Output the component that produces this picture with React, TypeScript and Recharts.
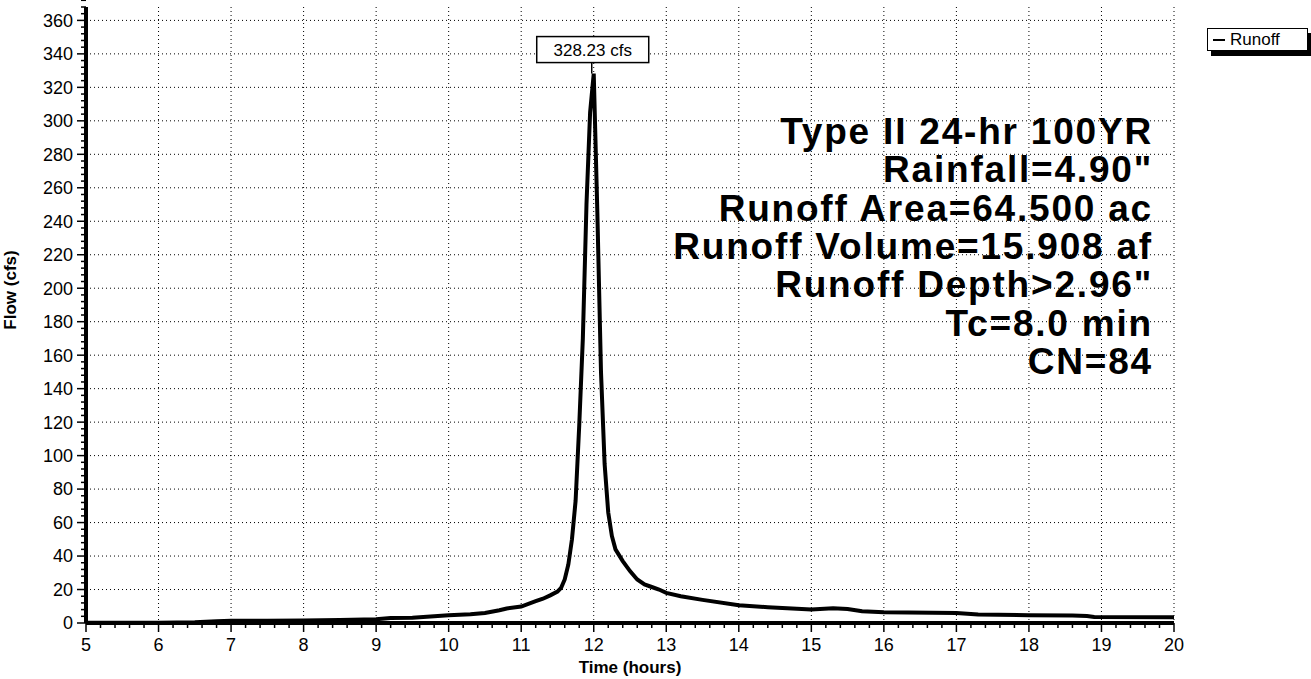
import { CartesianGrid, ComposedChart, Legend, Line, ReferenceDot, XAxis, YAxis } from 'recharts';

// hydrograph (hours, cfs)
const hours = [
  5, 6, 6.5, 6.8, 7, 7.5, 8, 8.5, 9, 9.2, 9.5, 10, 10.3, 10.5, 10.7, 10.8, 11, 11.2, 11.3, 11.4,
  11.5, 11.55, 11.6, 11.65, 11.7, 11.75, 11.8, 11.85, 11.9, 11.95, 12, 12.05, 12.1, 12.15, 12.2,
  12.25, 12.3, 12.4, 12.5, 12.6, 12.7, 12.8, 12.9, 13, 13.2, 13.5, 14, 14.4, 15, 15.3, 15.5, 15.7,
  16, 17, 17.3, 18, 18.6, 18.8, 18.9, 20,
];
const runoffCfs = [
  0.1, 0.2, 0.4, 1.0, 1.3, 1.4, 1.5, 1.8, 2.2, 3.0, 3.2, 4.6, 5.2, 6.0, 7.6, 8.7, 9.8, 13, 14.5, 16.5,
  18.8, 21, 26, 35, 50, 73, 118, 170, 250, 305, 328.23, 245, 150, 95, 66,
  52, 44, 37, 31, 26, 23, 21.5, 20, 18, 16, 13.8, 10.6, 9.4, 8.0, 8.8, 8.4, 7.0,
  6.4, 5.9, 5.1, 4.7, 4.5, 4.2, 3.6, 3.4,
];

const xTicks = [5, 6, 7, 8, 9, 10, 11, 12, 13, 14, 15, 16, 17, 18, 19, 20];
const yTicks = [0, 20, 40, 60, 80, 100, 120, 140, 160, 180, 200, 220, 240, 260, 280, 300, 320, 340, 360];
// minor ticks: 5 per hour, 5 per 20 cfs
const xAll = xTicks.flatMap((h) => (h < 20 ? [h, h + 0.2, h + 0.4, h + 0.6, h + 0.8] : [h]));
const yAll = yTicks.flatMap((v) => [v, v + 4, v + 8, v + 12, v + 16]);

const peakHour = 12;
const peakCfs = 328.23;

const notes = [
  'Type II 24-hr 100YR',
  'Rainfall=4.90"',
  'Runoff Area=64.500 ac',
  'Runoff Volume=15.908 af',
  'Runoff Depth>2.96"',
  'Tc=8.0 min',
  'CN=84',
];

const data = hours.map((t, i) => ({ t, runoff: runoffCfs[i] }));

const FONT = '"Liberation Sans", Arial, sans-serif';

function XTick({ x, y, payload }: any) {
  const major = xTicks.includes(payload.value);
  return (
    <g>
      <line x1={x} x2={x} y1={y} y2={y + (major ? 9 : 5)} stroke="#000" strokeWidth={1.5} />
      {major && (
        <text x={x} y={y + 15} dy="0.71em" textAnchor="middle" fontSize={18} fontFamily={FONT} fill="#000">
          {payload.value}
        </text>
      )}
    </g>
  );
}

function YTick({ x, y, payload }: any) {
  const major = yTicks.includes(payload.value);
  return (
    <g>
      <line x1={x} x2={x - (major ? 9 : 5)} y1={y} y2={y} stroke="#000" strokeWidth={1.5} />
      {major && (
        <text x={x - 13} y={y} dy="0.355em" textAnchor="end" fontSize={18} fontFamily={FONT} fill="#000">
          {payload.value}
        </text>
      )}
    </g>
  );
}

function PeakTag(props: any) {
  const { cx, cy } = props;
  if (cx == null || cy == null) return <g />;
  return (
    <g>
      <line x1={cx - 2} y1={cy} x2={cx - 2} y2={cy - 11} stroke="#000" strokeWidth={1.5} />
      <rect x={cx - 57} y={cy - 37} width={112} height={26} fill="#fff" stroke="#000" strokeWidth={1.5} />
      <text x={cx - 1} y={cy - 18} textAnchor="middle" fontSize={17} fontFamily={FONT} fill="#000">
        {peakCfs.toFixed(2)} cfs
      </text>
    </g>
  );
}

function LegendBox() {
  return (
    <div
      style={{
        border: '1.5px solid #000',
        background: '#fff',
        boxShadow: '4px 5px 0 #000',
        fontFamily: FONT,
        fontSize: 17,
        lineHeight: '21px',
        padding: '0 4px 0 5px',
        display: 'flex',
        alignItems: 'center',
        width: 90,
      }}
    >
      <span style={{ display: 'inline-block', width: 12, height: 2, background: '#000', marginRight: 5 }} />
      Runoff
    </div>
  );
}

export default function App() {
  return (
    <div style={{ position: 'absolute', left: 0, top: 0, width: 1311, height: 679, background: '#fff' }}>
      <ComposedChart
        width={1311}
        height={679}
        data={data}
        margin={{ top: 7, right: 137, bottom: 0, left: 0 }}
      >
        <CartesianGrid
          stroke="#000"
          strokeDasharray="1 3"
          strokeWidth={1}
          verticalValues={xTicks}
          horizontalValues={yTicks}
        />
        <XAxis
          dataKey="t"
          type="number"
          domain={[5, 20]}
          ticks={xAll}
          interval={0}
          height={56}
          tick={<XTick />}
          tickSize={0}
          tickMargin={0}
          tickLine={false}
          axisLine={{ stroke: '#000', strokeWidth: 4 }}
          label={{
            value: 'Time (hours)',
            position: 'insideBottom',
            offset: 6,
            style: { fill: '#000', fontSize: 17, fontWeight: 'bold', fontFamily: FONT },
          }}
        />
        <XAxis
          xAxisId="top"
          orientation="top"
          type="number"
          domain={[5, 20]}
          height={0}
          tick={false}
          tickLine={false}
          axisLine={{ stroke: '#000', strokeWidth: 3 }}
        />
        <YAxis
          type="number"
          domain={[0, 368]}
          ticks={yAll}
          interval={0}
          width={86}
          tick={<YTick />}
          tickSize={0}
          tickMargin={0}
          tickLine={false}
          axisLine={{ stroke: '#000', strokeWidth: 4 }}
          label={{
            value: 'Flow (cfs)',
            angle: -90,
            position: 'insideLeft',
            offset: 10,
            dy: -25,
            style: { fill: '#000', fontSize: 17, fontWeight: 'bold', fontFamily: FONT, textAnchor: 'middle' },
          }}
        />
        <YAxis
          yAxisId="right"
          orientation="right"
          type="number"
          domain={[0, 368]}
          width={0}
          tick={false}
          tickLine={false}
          axisLine={{ stroke: '#000', strokeWidth: 2 }}
        />
        <Legend
          layout="horizontal"
          verticalAlign="middle"
          align="center"
          content={() => <LegendBox />}
          wrapperStyle={{ left: 1207, top: 28, width: 'auto' }}
        />
        <Line
          dataKey="runoff"
          name="Runoff"
          type="linear"
          stroke="#000"
          strokeWidth={4}
          dot={false}
          isAnimationActive={false}
        />
        <ReferenceDot x={peakHour} y={peakCfs} r={0} shape={PeakTag} />
      </ComposedChart>
      <svg
        width={1311}
        height={679}
        style={{ position: 'absolute', left: 0, top: 0, pointerEvents: 'none' }}
      >
        {notes.map((s, i) => (
          <text
            key={s}
            x={1153}
            y={144 + i * 38.3}
            textAnchor="end"
            fontFamily={FONT}
            fontWeight="bold"
            fontSize={37}
            letterSpacing={1.8}
            fill="#000"
          >
            {s}
          </text>
        ))}
      </svg>
    </div>
  );
}
